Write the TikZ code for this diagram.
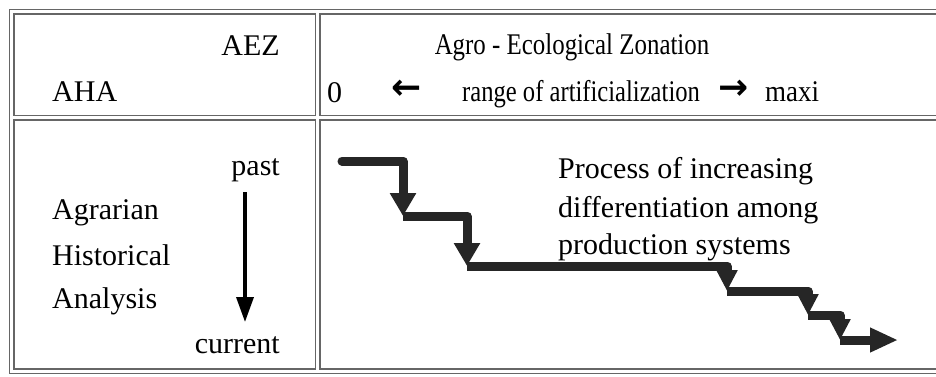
\documentclass[tikz,border=0pt]{standalone}
\usepackage{fontspec}
\setmainfont{Liberation Serif}
\newfontfamily\symfont{DejaVu Sans}
\usepackage{graphicx}
\usetikzlibrary{arrows.meta}
\begin{document}
\begin{tikzpicture}[x=1pt,y=-1pt,
  txt/.style={inner sep=0pt,font=\fontsize{30}{36}\selectfont},
  symtxt/.style={inner sep=0pt,font=\symfont\bfseries\fontsize{36}{40}\selectfont},
  gridouter/.style={draw=black!60,line width=6pt},
  gridinner/.style={draw=white,line width=3pt},
  stair/.style={draw=black!85,line width=9pt,line join=round},
  bigtip/.style={-{Triangle[width=25pt,length=23pt]}},
  smalltip/.style={-{Triangle[width=20pt,length=21pt]}},
  endtip/.style={-{Triangle[width=23pt,length=28pt]}},
  timearrow/.style={draw=black,line width=3.5pt,-{Triangle[width=17pt,length=25pt]}}
]
\useasboundingbox (0,0) rectangle (936,376);
% table grid (double lines)
\draw[gridouter] (945,11.5) -- (11.5,11.5) -- (11.5,371) -- (945,371);
\draw[gridouter] (11.5,117.5) -- (945,117.5);
\draw[gridouter] (317.5,11.5) -- (317.5,371);
\draw[gridinner] (945,11.5) -- (11.5,11.5) -- (11.5,371) -- (945,371);
\draw[gridinner] (11.5,117.5) -- (945,117.5);
\draw[gridinner] (317.5,11.5) -- (317.5,371);
% header texts
\node[txt,anchor=base east] (aez) at (280,55) {AEZ};
\node[txt,anchor=base west] (aha) at (52,101) {AHA};
\node[txt,anchor=base] (zon) at (572,54) {\scalebox{0.83}[1]{Agro - Ecological Zonation}};
\node[txt,anchor=base west] (zero) at (327,102) {0};
\node[symtxt] (larr) at (407,90) {←};
\node[txt,anchor=base west] (range) at (462,101) {\scalebox{0.82}[1]{range of artificialization}};
\node[symtxt] (rarr) at (734,90) {→};
\node[txt,anchor=base west] (maxi) at (765,101) {\scalebox{0.9}[1]{maxi}};
% left column
\node[txt,anchor=base east] (past) at (280,175) {past};
\node[txt,anchor=base west] (agr) at (52,219) {Agrarian};
\node[txt,anchor=base west] (his) at (52,265) {Historical};
\node[txt,anchor=base west] (ana) at (52,308) {Analysis};
\node[txt,anchor=base east] (cur) at (280,353) {current};
\coordinate (ta) at (245,192);
\coordinate (tb) at (245,322);
\draw[timearrow] (ta) -- (tb);
% process text
\node[txt,anchor=base west] (pr1) at (558,178) {Process of increasing};
\node[txt,anchor=base west] (pr2) at (558,217) {differentiation among};
\node[txt,anchor=base west] (pr3) at (558,254) {production systems};
% staircase
\coordinate (s0) at (342,161);
\coordinate (c1) at (403,161);
\coordinate (p1) at (403,216);
\coordinate (c2) at (467,216);
\coordinate (p2) at (467,266);
\coordinate (c3) at (727,266);
\coordinate (p3) at (727,291);
\coordinate (c4) at (808,291);
\coordinate (p4) at (808,315);
\coordinate (c5) at (840,315);
\coordinate (p5) at (840,340);
\coordinate (e) at (898,340);
\draw[stair,line cap=round,bigtip] (s0) -- (c1) -- (p1);
\draw[stair,bigtip] (p1) -- (c2) -- (p2);
\draw[stair,smalltip] (p2) -- (c3) -- (p3);
\draw[stair,smalltip] (p3) -- (c4) -- (p4);
\draw[stair,smalltip] (p4) -- (c5) -- (p5);
\draw[stair,endtip] (p5) -- (e);
\end{tikzpicture}
\end{document}
